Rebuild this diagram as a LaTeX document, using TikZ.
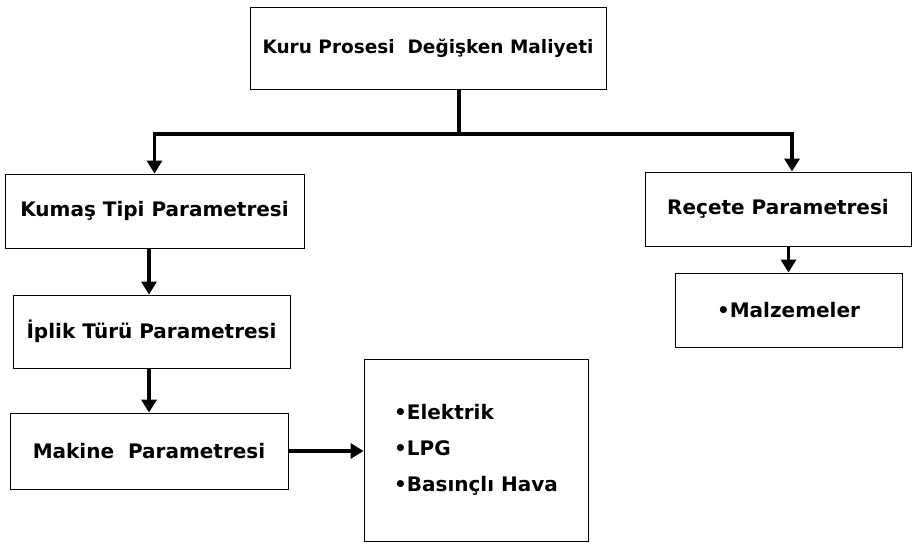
\documentclass[tikz,border=0pt]{standalone}
\usepackage{fontspec}
\setmainfont{DejaVu Sans}
\usetikzlibrary{positioning, arrows.meta}
\tikzset{
    bigbox/.style={draw, line width=0.9pt, inner sep=0pt, font=\fontsize{20}{24}\selectfont\bfseries},
    link/.style={line width=3.8pt},
    flow/.style={line width=3.8pt, -{Triangle[width=15pt,length=13pt]}}
}

\begin{document}
\begin{tikzpicture}[x=1pt, y=-1pt]
  \useasboundingbox (0,0) rectangle (914,549);
  \node(top)[bigbox, minimum width=356, minimum height=82, font=\fontsize{18.5}{22}\selectfont\bfseries] at (428,48){Kuru Prosesi\ \ Değişken Maliyeti};
  \node(kumas)[bigbox, minimum width=299, minimum height=74] at (154.5,211){Kumaş Tipi Parametresi};
  \node(iplik)[bigbox, minimum width=277, minimum height=73] at (151.5,331.5){İplik Türü Parametresi};
  \node(makine)[bigbox, minimum width=278, minimum height=76] at (149,451){Makine\ \ Parametresi};
  \node(kaynak)[bigbox, minimum width=224, minimum height=182, align=left, font=\fontsize{20}{36}\selectfont\bfseries] at (476,450){•Elektrik\\•LPG\\•Basınçlı Hava};
  \node(recete)[bigbox, minimum width=266, minimum height=74] at (778,209){Reçete Parametresi};
  \node(malz)[bigbox, minimum width=227, minimum height=74] at (788.5,310){•Malzemeler};
  \coordinate(split) at (459,134);
  \draw[link](top.south -| split)--(split);
  \draw[flow](split)-|(kumas.north);
  \draw[flow](split)-|([xshift=14]recete.north);
  \draw[flow](kumas.south -| makine.north)--(iplik.north -| makine.north);
  \draw[flow](iplik.south -| makine.north)--(makine.north);
  \draw[flow](makine.east)--(kaynak.west |- makine.east);
  \draw[flow](recete.south -| malz.north)--(malz.north);
\end{tikzpicture}
\end{document}
